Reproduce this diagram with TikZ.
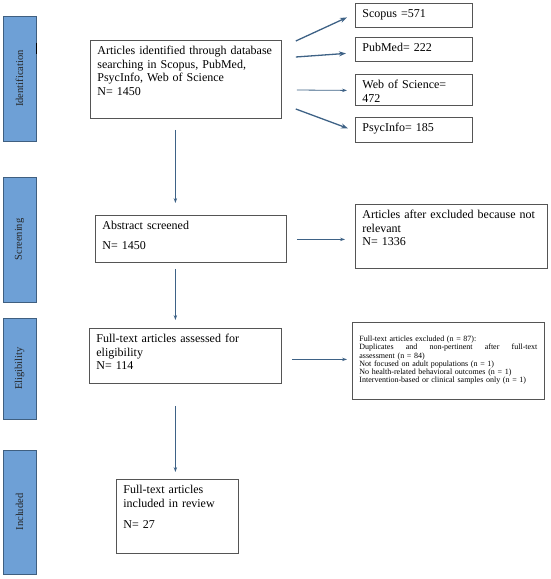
\documentclass[tikz,border=0pt]{standalone}
\usepackage{fontspec}
\setmainfont{Liberation Serif}
\usepackage{xcolor}
\usetikzlibrary{arrows.meta}
\definecolor{phaseblue}{HTML}{6EA0D6}
\definecolor{phaseline}{HTML}{3F5F80}
\definecolor{flowarrow}{HTML}{3E6286}
\definecolor{boxline}{HTML}{555555}

\begin{document}
\begin{tikzpicture}[
  x=1pt, y=-1pt,
  every node/.style={rectangle, sharp corners},
  phase/.style={draw=phaseline, fill=phaseblue, line width=0.8pt, rotate=90,
    minimum height=33pt, inner sep=0pt, text=black!85,
    font=\fontsize{10.5}{12}\selectfont},
  flowbox/.style={draw=boxline, line width=0.8pt, anchor=north west, align=left,
    inner xsep=7pt, inner ysep=5pt, text height=9pt,
    font=\fontsize{12}{13.7}\selectfont},
  notebox/.style={draw=boxline, line width=0.8pt, anchor=north west, align=left,
    inner xsep=7pt, inner ysep=13pt, text height=6pt,
    font=\fontsize{8}{8.3}\selectfont},
  arrow/.style={-{Stealth[length=5pt, width=3.5pt]}, line width=0.8pt, flowarrow},
  fatarrow/.style={-{Stealth[length=7pt, width=5pt]}, line width=1.3pt, flowarrow}
]
\useasboundingbox (0,0) rectangle (550,579);

%% Phase bars (left column)
\node[phase, minimum width=125pt] (identif) at (19.5,78.5) {Identification};
\node[phase, minimum width=125pt] (screen) at (19.5,239.5) {Screening};
\node[phase, minimum width=101pt] (elig) at (19.5,368.5) {Eligibility};
\node[phase, minimum width=124pt] (incl) at (19.5,512) {Included};
\draw[line width=1.5pt, black] ([yshift=-27pt]identif.south east) -- ([yshift=-38pt]identif.south east);

%% Main column
\node[flowbox, text width=177pt, text depth=59pt] (search) at (90,40)
  {Articles identified through database searching in Scopus, PubMed, PsycInfo, Web of Science\\N= 1450};
\node[flowbox, text width=177pt, text depth=28pt] (abstract) at (95,215)
  {Abstract screened\\[6pt]N= 1450};
\node[flowbox, text width=178pt, text depth=36pt] (fulltext) at (89,328)
  {Full-text articles assessed for\\eligibility\\N= 114};
\node[flowbox, text width=108pt, text depth=55pt] (included) at (116,479)
  {Full-text articles\\included in review\\[8pt]N= 27};

%% Databases (top right)
\node[flowbox, text width=103pt, text depth=5pt] (scopus) at (355,3) {Scopus =571};
\node[flowbox, text width=103pt, text depth=5pt] (pubmed) at (355,37) {PubMed= 222};
\node[flowbox, text width=103pt, text depth=12pt] (wos) at (355,74) {Web of Science=\\472};
\node[flowbox, text width=103pt, text depth=6pt] (psycinfo) at (355,117) {PsycInfo= 185};

%% Exclusions (right)
\node[flowbox, text width=178pt, text depth=45pt] (notrelevant) at (355,204)
  {Articles after excluded because not\\relevant\\N= 1336};
\node[notebox, text width=178pt, text depth=45pt] (excluded) at (352,322)
  {Full-text articles excluded (n = 87):\\
   Duplicates\hfill and\hfill non-pertinent\hfill after\hfill full-text\\
   assessment (n = 84)\\
   Not focused on adult populations (n = 1)\\
   No health-related behavioral outcomes (n = 1)\\
   Intervention-based or clinical samples only (n = 1)};

%% Arrows to databases
\draw[fatarrow] ([shift={(14,1)}]search.north east) -- ([shift={(-8,2)}]scopus.west);
\draw[fatarrow] ([shift={(14,17)}]search.north east) -- ([shift={(-9,4)}]pubmed.west);
\draw[arrow] ([shift={(15,50)}]search.north east) -- ([shift={(-8,0.5)}]wos.west);
\draw[fatarrow] ([shift={(14,69)}]search.north east) -- ([shift={(-7,-1.5)}]psycinfo.west);

%% Arrows down the main column
\draw[arrow] ([shift={(-10.5,11)}]search.south) -- ([shift={(-15.5,-12)}]abstract.north);
\draw[arrow] ([shift={(-15.5,6)}]abstract.south) -- ([shift={(-10,-8)}]fulltext.north);
\draw[arrow] ([shift={(-10,22)}]fulltext.south) -- ([shift={(-2,-7)}]included.north);

%% Arrows to exclusions
\draw[arrow] ([shift={(10,0.5)}]abstract.east) -- ([shift={(-10,3)}]notrelevant.west);
\draw[arrow] ([shift={(10,3.5)}]fulltext.east) -- ([shift={(-5,-1.5)}]excluded.west);

\end{tikzpicture}
\end{document}
